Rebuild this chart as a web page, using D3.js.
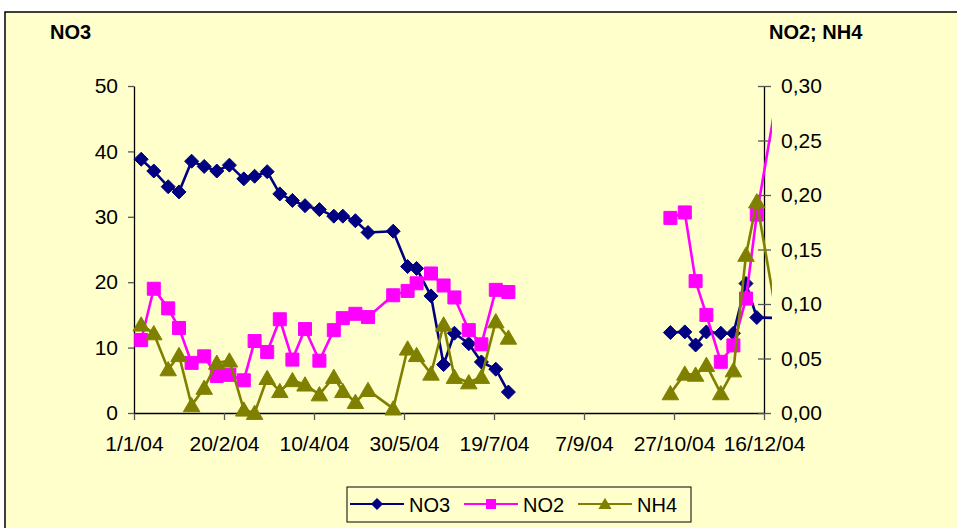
<!DOCTYPE html>
<html><head><meta charset="utf-8">
<script src="https://cdn.jsdelivr.net/npm/d3@7"></script>
<style>html,body{margin:0;padding:0;background:#fff;}svg{display:block;}text{font-family:"Liberation Sans",Arial,sans-serif;}</style>
</head><body>
<svg id="chart" width="957" height="528"></svg>
<script>
const dates = ["2004-01-05","2004-01-12","2004-01-20","2004-01-26","2004-02-02","2004-02-09","2004-02-16","2004-02-23","2004-03-02","2004-03-08","2004-03-15","2004-03-22","2004-03-29","2004-04-05","2004-04-13","2004-04-21","2004-04-26","2004-05-03","2004-05-10","2004-05-24","2004-06-01","2004-06-06","2004-06-14","2004-06-21","2004-06-27","2004-07-05","2004-07-12","2004-07-20","2004-07-27",
"2004-10-25","2004-11-02","2004-11-08","2004-11-14","2004-11-22","2004-11-29","2004-12-06","2004-12-12","2004-12-26"];
const no3 = [38.8,37.0,34.6,33.8,38.5,37.7,37.0,37.9,35.8,36.2,36.9,33.5,32.5,31.7,31.1,30.1,30.1,29.4,27.6,27.8,22.4,22.1,17.9,7.4,12.2,10.6,7.8,6.7,3.2,
12.3,12.4,10.4,12.4,12.2,12.2,19.8,14.6,14.5];
const no2 = [0.067,0.114,0.096,0.078,0.046,0.052,0.034,0.035,0.030,0.066,0.056,0.086,0.049,0.077,0.048,0.076,0.087,0.091,0.088,0.108,0.112,0.119,0.128,0.117,0.106,0.076,0.063,0.113,0.111,
0.179,0.184,0.121,0.090,0.047,0.062,0.105,0.182,0.318];
const nh4 = [0.081,0.073,0.040,0.053,0.007,0.023,0.046,0.048,0.003,0.000,0.032,0.020,0.030,0.026,0.017,0.033,0.020,0.010,0.021,0.004,0.059,0.053,0.036,0.081,0.033,0.028,0.033,0.084,0.069,
0.018,0.036,0.035,0.044,0.018,0.039,0.145,0.194,0.060];
const xTicks = ["2004-01-01","2004-02-20","2004-04-10","2004-05-30","2004-07-19","2004-09-07","2004-10-27","2004-12-16"];
const leftTicks = [0,10,20,30,40,50];
const rightTicks = [0,0.05,0.10,0.15,0.20,0.25,0.30];
const seriesNames = ["NO3","NO2","NH4"];
const colors = ["#000080","#FF00FF","#808000"];

const parse = d3.utcParse("%Y-%m-%d");
const svg = d3.select("#chart");
const x = d3.scaleUtc().domain([parse("2004-01-01"), parse("2004-12-16")]).range([134, 764]);
const yL = d3.scaleLinear().domain([0, 50]).range([413, 86]);
const yR = d3.scaleLinear().domain([0, 0.3]).range([413, 86]);

// chart frame
svg.append("rect").attr("x",5).attr("y",12).attr("width",960).attr("height",530)
  .attr("fill","#FFFFCC").attr("stroke","#000").attr("stroke-width",1.5);

// axis titles
svg.append("text").attr("x",50).attr("y",39).attr("font-size",20).attr("font-weight","bold").text("NO3");
svg.append("text").attr("x",769).attr("y",39).attr("font-size",20).attr("font-weight","bold").text("NO2; NH4");

// clip
svg.append("clipPath").attr("id","clip").append("rect").attr("x",120).attr("y",70).attr("width",652).attr("height",360);

// axes
const fs = 21;
const gx = svg.append("g").attr("transform","translate(0,413)")
  .call(d3.axisBottom(x).tickValues(xTicks.map(parse)).tickFormat(d3.utcFormat("%-d/%-m/%y")).tickSize(7).tickSizeOuter(0).tickPadding(16));
gx.select(".domain").attr("stroke","#000").attr("stroke-width",1.3);
gx.selectAll(".tick line").attr("stroke","#555").attr("stroke-width",1.3);
gx.selectAll("text").attr("font-size",fs).attr("fill","#000").attr("font-family","Liberation Sans, Arial, sans-serif");

const gl = svg.append("g").attr("transform","translate(134,0)")
  .call(d3.axisLeft(yL).tickValues(leftTicks).tickFormat(d3.format("d")).tickSize(6).tickSizeOuter(0).tickPadding(10));
gl.select(".domain").attr("stroke","#000").attr("stroke-width",1.3);
gl.selectAll(".tick line").attr("stroke","#555").attr("stroke-width",1.3);
gl.selectAll("text").attr("font-size",fs).attr("fill","#000").attr("font-family","Liberation Sans, Arial, sans-serif");

const gr = svg.append("g").attr("transform","translate(764,0)")
  .call(d3.axisRight(yR).tickValues(rightTicks).tickFormat(d => d3.format(".2f")(d).replace(".",",")).tickSize(7).tickSizeOuter(0).tickPadding(10));
gr.select(".domain").attr("stroke","#000").attr("stroke-width",1.3);
gr.selectAll(".tick line").attr("stroke","#555").attr("stroke-width",1.3).attr("x1",-6);
gr.selectAll("text").attr("font-size",fs).attr("fill","#000").attr("font-family","Liberation Sans, Arial, sans-serif");

// data
const series = [
  {name:"NO3", vals:no3, y:yL, color:colors[0], shape:"diamond"},
  {name:"NO2", vals:no2, y:yR, color:colors[1], shape:"square"},
  {name:"NH4", vals:nh4, y:yR, color:colors[2], shape:"triangle"}
];
function markerPath(shape, s){
  if(shape==="diamond") return `M0,${-s}L${s},0L0,${s}L${-s},0Z`;
  if(shape==="square") return `M${-s},${-s}H${s}V${s}H${-s}Z`;
  return `M0,${-s*1.05}L${s*1.1},${s*0.85}L${-s*1.1},${s*0.85}Z`;
}
const plot = svg.append("g").attr("clip-path","url(#clip)");
series.forEach(s => {
  const pts = dates.map((d,i) => ({t: parse(d), v: s.vals[i]}));
  // split at large gaps (no sampling)
  const segs = []; let cur = [];
  pts.forEach((p,i) => {
    if (i>0 && (p.t - pts[i-1].t) > 60*864e5) { segs.push(cur); cur = []; }
    cur.push(p);
  });
  segs.push(cur);
  const line = d3.line().x(p => x(p.t)).y(p => s.y(p.v));
  segs.forEach(seg => plot.append("path").attr("d", line(seg)).attr("fill","none")
    .attr("stroke", s.color).attr("stroke-width",2.6).attr("stroke-linejoin","round"));
  const sz = s.shape==="diamond" ? 7 : (s.shape==="square" ? 6.5 : 7.5);
  plot.selectAll(null).data(pts).enter().append("path")
    .attr("transform", p => `translate(${x(p.t)},${s.y(p.v)})`)
    .attr("d", markerPath(s.shape, sz)).attr("fill", s.color).attr("stroke", s.color).attr("stroke-width",1);
});

// legend
const lg = svg.append("g");
lg.append("rect").attr("x",347).attr("y",487).attr("width",344).attr("height",35)
  .attr("fill","#FFFFCC").attr("stroke","#000").attr("stroke-width",1);
const legX = [350, 464, 578];
series.forEach((s,i) => {
  const x0 = legX[i];
  lg.append("line").attr("x1",x0).attr("x2",x0+54).attr("y1",504).attr("y2",504).attr("stroke",s.color).attr("stroke-width",2);
  lg.append("path").attr("transform",`translate(${x0+27},504)`).attr("d", markerPath(s.shape, s.shape==="square"?5:6)).attr("fill",s.color);
  lg.append("text").attr("x",x0+59).attr("y",511.5).attr("font-size",20).text(s.name);
});
</script>
</body></html>
